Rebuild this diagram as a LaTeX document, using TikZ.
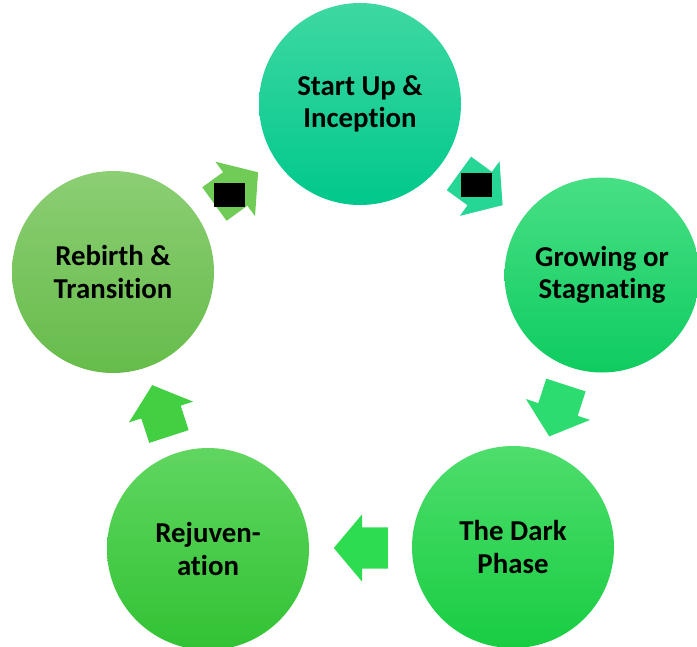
\documentclass[tikz,border=0pt]{standalone}
\usepackage{fontspec}
\setmainfont{Carlito}[Ligatures=NoCommon]
\usetikzlibrary{shapes.arrows,calc}
\definecolor{startTop}{RGB}{62,216,162}
\definecolor{startBot}{RGB}{0,200,140}
\definecolor{growTop}{RGB}{72,223,132}
\definecolor{growBot}{RGB}{14,204,96}
\definecolor{darkTop}{RGB}{78,221,108}
\definecolor{darkBot}{RGB}{24,205,66}
\definecolor{rejuvTop}{RGB}{96,214,96}
\definecolor{rejuvBot}{RGB}{50,194,52}
\definecolor{rebirthTop}{RGB}{140,206,116}
\definecolor{rebirthBot}{RGB}{102,188,74}
\tikzset{
  phase/.style={circle,minimum size=2.02cm,inner sep=0pt,align=center,
    font=\fontsize{8.2}{9.2}\selectfont\bfseries,text=black},
  blockarrow/.style={single arrow,inner xsep=0pt,inner ysep=0.2cm,
    single arrow head extend=0.13cm,single arrow tip angle=100,minimum height=0.54cm,
    xshift=-0.09cm},
  blot/.style={fill=black,minimum width=0.31cm,minimum height=0.24cm,inner sep=0pt},
}

\begin{document}
\begin{tikzpicture}
  \useasboundingbox (0,0) rectangle (6.97,6.46);
  % the five phases
  \node[phase,top color=startTop,bottom color=startBot] (start) at (3.60,5.42) {Start Up \&\\Inception};
  \node[phase,minimum size=1.95cm,top color=growTop,bottom color=growBot] (grow) at (6.02,3.71) {Growing or\\Stagnating};
  \node[phase,top color=darkTop,bottom color=darkBot] (dark) at (5.13,0.99) {The Dark\\Phase};
  \node[phase,top color=rejuvTop,bottom color=rejuvBot] (rejuv) at (2.08,0.97) {Rejuven-\\ation};
  \node[phase,top color=rebirthTop,bottom color=rebirthBot] (rebirth) at (1.13,3.74) {Rebirth \&\\Transition};
  % block arrows half way between neighbours
  \node[rotate=-36,blockarrow,fill={rgb,255:red,38;green,214;blue,148}] (a1) at ($(start)!0.5!(grow)$) {};
  \node[rotate=-108,blockarrow,fill={rgb,255:red,44;green,220;blue,112}] (a2) at ($(grow)!0.5!(dark)$) {};
  \node[rotate=180,blockarrow,fill={rgb,255:red,46;green,220;blue,80}] (a3) at ($(dark)!0.5!(rejuv)$) {};
  \node[rotate=108,blockarrow,fill={rgb,255:red,66;green,208;blue,66}] (a4) at ($(rejuv)!0.5!(rebirth)$) {};
  \node[rotate=36,blockarrow,fill={rgb,255:red,112;green,204;blue,86}] (a5) at ($(rebirth)!0.5!(start)$) {};
  % black patches on the two upper arrows
  \node[blot] (b1) at (4.765,4.61) {};
  \node[blot] (b2) at (2.29,4.51) {};
\end{tikzpicture}
\end{document}
